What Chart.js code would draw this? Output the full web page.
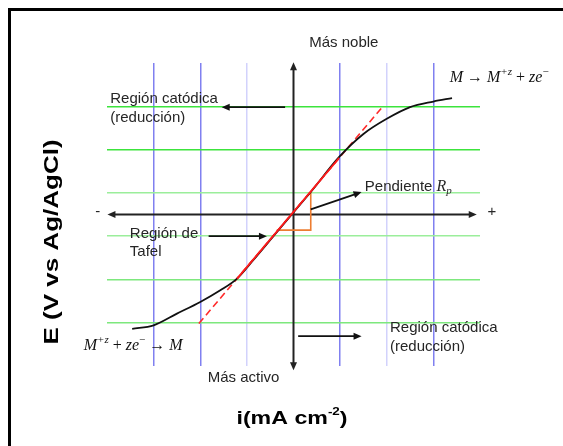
<!DOCTYPE html>
<html>
<head>
<meta charset="utf-8">
<title>Curva de polarización</title>
<script src="https://cdn.jsdelivr.net/npm/chart.js@4.4.1/dist/chart.umd.min.js"></script>
<style>
  html, body { margin: 0; padding: 0; background: #fff; overflow: hidden; }
  #wrap { position: relative; width: 563px; height: 446px; overflow: hidden; }
  /* black frame, only top and left sides are visible in the picture */
  #frame {
    position: absolute; left: 8px; top: 8px; width: 600px; height: 500px;
    border-left: 3px solid #000; border-top: 3px solid #000; pointer-events: none;
  }
</style>
</head>
<body>
<div id="wrap">
  <canvas id="myChart" width="563" height="446"></canvas>
  <div id="frame"></div>
</div>
<script>
// polarization curve (current i vs potential E), in grid units
const curveI = [-3.46, -3.0, -2.5, -2.0, -1.57, -1.21, -0.86, -0.43, 0, 0.37, 0.98, 1.5, 2.0, 2.5, 3.0, 3.40];
const curveE = [-2.64, -2.56, -2.29, -2.02, -1.75, -1.48, -1.05, -0.50, 0.05, 0.52, 1.33, 1.86, 2.21, 2.48, 2.61, 2.69];

// linear (Tafel / Rp) line: dashed over the full span, solid where it touches the curve
const tangentI = [-2.03, 1.88];
const tangentE = [-2.52, 2.45];
const solidI = [-1.21, 0.98];
const solidE = [-1.48, 1.31];

// slope triangle
const slopeI = [0.37, 0.37, -0.36];
const slopeE = [0.53, -0.36, -0.36];

// grid lines
const xGridValues = [-3, -2, -1, 1, 2, 3];
const yGridValues = [-2.5, -1.5, -0.5, 0.5, 1.5, 2.5];

// axes with arrow heads: [from i, from E, to i, to E]
const axisArrows = [[0, 0, -3.99, 0], [0, 0, 3.93, 0], [0, 0, 0, 3.52], [0, 0, 0, -3.6]];
// annotation arrows
const noteArrows = [
  [-0.18, 2.48, -1.54, 2.48],
  [0.10, -2.81, 1.46, -2.81],
  [-1.82, -0.50, -0.57, -0.50],
  [0.37, 0.12, 1.46, 0.52]
];

function pts(xs, ys) { return xs.map((x, k) => ({ x: x, y: ys[k] })); }

const SANS = "'Liberation Sans', Arial, sans-serif";
const SERIF = "'Liberation Serif', 'Times New Roman', serif";

function drawArrow(ctx, x1, y1, x2, y2, width, color) {
  const ang = Math.atan2(y2 - y1, x2 - x1);
  const len = 8, half = 3.5;
  ctx.save();
  ctx.strokeStyle = color; ctx.fillStyle = color; ctx.lineWidth = width;
  ctx.beginPath();
  ctx.moveTo(x1, y1);
  ctx.lineTo(x2 - Math.cos(ang) * len * 0.8, y2 - Math.sin(ang) * len * 0.8);
  ctx.stroke();
  ctx.beginPath();
  ctx.moveTo(x2, y2);
  ctx.lineTo(x2 - Math.cos(ang) * len - Math.sin(ang) * half, y2 - Math.sin(ang) * len + Math.cos(ang) * half);
  ctx.lineTo(x2 - Math.cos(ang) * len + Math.sin(ang) * half, y2 - Math.sin(ang) * len - Math.cos(ang) * half);
  ctx.closePath();
  ctx.fill();
  ctx.restore();
}

// draw a list of text runs one after the other; run.dy shifts for super/subscript
function drawRuns(ctx, runs, x, y) {
  let cx = x;
  ctx.save();
  runs.forEach(r => {
    ctx.font = r.f;
    ctx.fillText(r.t, cx, y + (r.dy || 0));
    cx += ctx.measureText(r.t).width;
  });
  ctx.restore();
}

const annotationPlugin = {
  id: "annotations",
  beforeDatasetsDraw(chart) {
    const ctx = chart.ctx, xs = chart.scales.x, ys = chart.scales.y;
    axisArrows.forEach(a => {
      drawArrow(ctx, xs.getPixelForValue(a[0]), ys.getPixelForValue(a[1]),
        xs.getPixelForValue(a[2]), ys.getPixelForValue(a[3]), 2, "#222");
    });
  },
  afterDatasetsDraw(chart) {
    const ctx = chart.ctx, xs = chart.scales.x, ys = chart.scales.y;
    const px = v => xs.getPixelForValue(v), py = v => ys.getPixelForValue(v);
    noteArrows.forEach(a => drawArrow(ctx, px(a[0]), py(a[1]), px(a[2]), py(a[3]), 1.8, "#111"));

    ctx.save();
    ctx.fillStyle = "#262626";
    ctx.textBaseline = "middle";
    ctx.font = "15px " + SANS;
    ctx.textAlign = "left";
    ctx.fillText("Región catódica", px(-3.93), py(2.67));
    ctx.fillText("(reducción)", px(-3.93), py(2.23));
    ctx.fillText("Región catódica", px(2.07), py(-2.62));
    ctx.fillText("(reducción)", px(2.07), py(-3.05));
    ctx.fillText("Región de", px(-3.51), py(-0.45));
    ctx.fillText("Tafel", px(-3.51), py(-0.87));
    ctx.fillText("Pendiente", px(1.53), py(0.63));
    ctx.fillText("-", px(-4.25), py(0.06));
    ctx.fillText("+", px(4.16), py(0.05));
    ctx.textAlign = "center";
    ctx.fillText("Más noble", px(1.08), py(3.97));
    ctx.fillText("Más activo", px(-1.07), py(-3.77));
    ctx.textAlign = "left";
    const pw = ctx.measureText("Pendiente ").width;
    drawRuns(ctx, [
      { t: "R", f: "italic 16px " + SERIF },
      { t: "p", f: "italic 11px " + SERIF, dy: 4 }
    ], px(1.53) + pw, py(0.63));

    ctx.fillStyle = "#111";
    drawRuns(ctx, [
      { t: "M", f: "italic 16px " + SERIF },
      { t: " → ", f: "16px " + SERIF },
      { t: "M", f: "italic 16px " + SERIF },
      { t: "+z", f: "italic 11px " + SERIF, dy: -6 },
      { t: " + ", f: "16px " + SERIF },
      { t: "ze", f: "italic 16px " + SERIF },
      { t: "−", f: "11px " + SERIF, dy: -6 }
    ], px(3.35), py(3.15));
    drawRuns(ctx, [
      { t: "M", f: "italic 16px " + SERIF },
      { t: "+z", f: "italic 11px " + SERIF, dy: -6 },
      { t: " + ", f: "16px " + SERIF },
      { t: "ze", f: "italic 16px " + SERIF },
      { t: "−", f: "11px " + SERIF, dy: -6 },
      { t: " → ", f: "16px " + SERIF },
      { t: "M", f: "italic 16px " + SERIF }
    ], px(-4.5), py(-3.03));
    ctx.restore();
  },
  afterDraw(chart) {
    const ctx = chart.ctx;
    ctx.save();
    ctx.fillStyle = "#000";
    ctx.textBaseline = "middle";
    // y axis title, stretched along its length like the original
    ctx.save();
    ctx.translate(52, 242);
    ctx.rotate(-Math.PI / 2);
    ctx.scale(1.3, 1);
    ctx.font = "bold 20px " + SANS;
    ctx.textAlign = "center";
    ctx.fillText("E (V vs Ag/AgCl)", 0, 0);
    ctx.restore();
    // x axis title with superscript
    ctx.save();
    ctx.translate(292, 419);
    ctx.scale(1.22, 1);
    const runs = [
      { t: "i(mA cm", f: "bold 19px " + SANS },
      { t: "-2", f: "bold 11px " + SANS, dy: -7 },
      { t: ")", f: "bold 19px " + SANS }
    ];
    let w = 0;
    runs.forEach(r => { ctx.font = r.f; w += ctx.measureText(r.t).width; });
    ctx.textAlign = "left";
    drawRuns(ctx, runs, -w / 2, 0);
    ctx.restore();
    ctx.restore();
  }
};

const ctx = document.getElementById("myChart").getContext("2d");

const darkBlue = "rgb(128,128,240)", lightBlue = "rgb(210,210,252)";
const brightGreen = "rgb(60,228,60)", paleGreen = "rgb(155,238,155)", midGreen = "rgb(125,232,125)";

const myChart = new Chart(ctx, {
  type: "scatter",
  data: {
    datasets: [
      {
        label: "linear",
        data: pts(solidI, solidE),
        showLine: true, borderColor: "#ff1a1a", borderWidth: 1.8,
        pointRadius: 0
      },
      {
        label: "curva",
        data: pts(curveI, curveE),
        showLine: true, borderColor: "#111", borderWidth: 1.8,
        cubicInterpolationMode: "monotone", pointRadius: 0
      },
      {
        label: "tangente",
        data: pts(tangentI, tangentE),
        showLine: true, borderColor: "#ff2a2a", borderWidth: 1.6,
        borderDash: [7, 4], pointRadius: 0
      },
      {
        label: "pendiente",
        data: pts(slopeI, slopeE),
        showLine: true, borderColor: "#ed7d31", borderWidth: 1.6,
        pointRadius: 0
      }
    ]
  },
  options: {
    responsive: false,
    animation: false,
    layout: { padding: { left: 107, right: 83, top: 63, bottom: 80 } },
    plugins: { legend: { display: false }, tooltip: { enabled: false } },
    scales: {
      x: {
        type: "linear", min: -4, max: 4,
        border: { display: false },
        ticks: { display: false },
        afterBuildTicks: axis => { axis.ticks = xGridValues.map(v => ({ value: v })); },
        grid: {
          drawTicks: false, lineWidth: 1.5,
          color: c => (c.tick && (c.tick.value === -1 || c.tick.value === 2)) ? lightBlue : darkBlue
        }
      },
      y: {
        type: "linear", min: -3.5, max: 3.5,
        border: { display: false },
        ticks: { display: false },
        afterBuildTicks: axis => { axis.ticks = yGridValues.map(v => ({ value: v })); },
        grid: {
          drawTicks: false, lineWidth: 1.5,
          color: c => {
            const v = c.tick ? c.tick.value : 0;
            if (v > 1) return brightGreen;
            if (v < -1) return midGreen;
            return paleGreen;
          }
        }
      }
    }
  },
  plugins: [annotationPlugin]
});
</script>
</body>
</html>
